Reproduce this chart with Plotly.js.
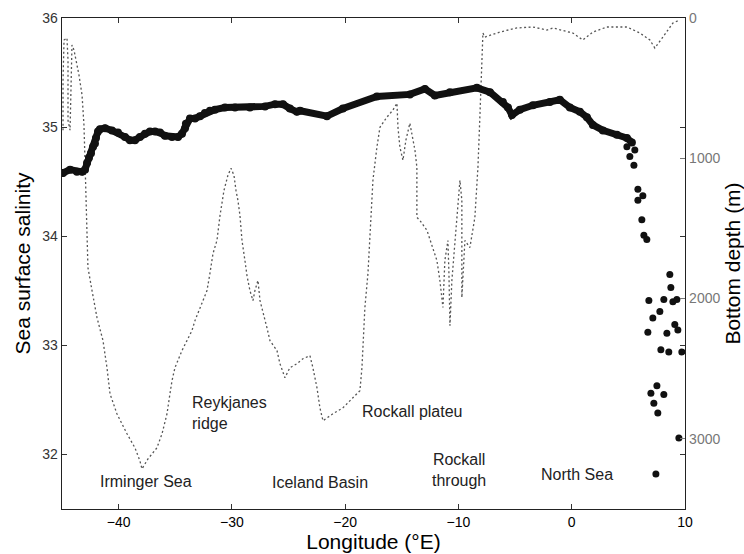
<!DOCTYPE html>
<html>
<head>
<meta charset="utf-8">
<script src="https://cdn.plot.ly/plotly-3.0.1.min.js"></script>
<style>html,body{margin:0;padding:0;background:#fff;}#chart{width:744px;height:554px;}</style>
</head>
<body>
<div id="chart"></div>
<script>
// Along-track sea surface salinity
const salLon = [-45.0,-44.91,-44.29,-43.68,-43.23,-42.97,-42.79,-42.62,-42.44,-42.26,-42.09,-42.0,-41.82,-41.65,-41.2,-40.59,-40.06,-39.44,-39.0,-38.56,-38.12,-37.67,-37.23,-36.79,-36.35,-35.91,-35.29,-34.76,-34.41,-34.14,-34.06,-33.7,-33.26,-32.82,-32.38,-31.94,-31.5,-30.61,-29.73,-28.41,-27.08,-26.2,-25.49,-24.88,-24.26,-23.99,-21.61,-20.2,-17.2,-14.29,-12.96,-12.08,-10.75,-8.37,-7.22,-6.08,-5.63,-5.28,-4.58,-3.43,-1.93,-1.05,-0.16,0.72,1.34,1.87,2.75,3.99,4.87,5.31];
const salVal = [34.58,34.58,34.61,34.59,34.59,34.61,34.67,34.72,34.76,34.82,34.85,34.90,34.96,34.98,34.99,34.97,34.95,34.91,34.88,34.88,34.91,34.94,34.96,34.96,34.95,34.92,34.91,34.91,34.94,34.99,35.03,35.08,35.08,35.10,35.13,35.15,35.16,35.18,35.18,35.18,35.19,35.21,35.21,35.17,35.14,35.15,35.10,35.17,35.28,35.30,35.35,35.29,35.32,35.36,35.32,35.23,35.18,35.11,35.16,35.20,35.23,35.25,35.18,35.14,35.09,35.02,34.97,34.93,34.90,34.86];
// Scattered North Sea salinity samples
const nsLon = [4.87,5.57,5.13,5.49,5.84,6.28,5.84,6.19,6.37,6.63,8.66,8.75,6.81,8.13,8.93,9.28,7.78,7.16,6.72,9.10,8.40,9.37,7.87,8.57,9.72,7.52,6.99,8.13,7.25,7.60,9.46,7.43];
const nsVal = [34.82,34.79,34.73,34.65,34.43,34.37,34.33,34.15,34.01,33.97,33.65,33.53,33.41,33.42,33.40,33.42,33.31,33.25,33.12,33.19,33.11,33.14,32.96,32.94,32.94,32.63,32.56,32.55,32.47,32.38,32.15,31.82];
// Bottom depth along the track (m)
const depLon = [-44.91,-44.91,-44.82,-44.56,-44.47,-44.47,-44.29,-44.21,-44.12,-43.94,-43.76,-43.5,-43.23,-43.06,-42.97,-42.88,-42.79,-42.71,-42.35,-41.91,-41.38,-41.03,-40.76,-40.15,-39.26,-38.56,-38.12,-37.94,-37.41,-36.62,-36.17,-35.73,-35.47,-35.29,-35.03,-34.41,-33.97,-33.53,-33.26,-33.0,-32.55,-32.2,-31.94,-31.67,-31.32,-31.05,-30.7,-30.35,-30.08,-29.82,-29.64,-29.47,-29.29,-29.11,-28.85,-28.67,-28.41,-28.14,-27.97,-27.7,-27.52,-27.35,-26.91,-26.64,-26.02,-25.76,-25.32,-24.88,-24.26,-23.73,-23.11,-22.85,-22.49,-22.23,-21.96,-21.08,-20.2,-19.32,-18.7,-18.52,-18.43,-18.26,-17.99,-17.82,-17.64,-17.55,-17.2,-16.93,-16.32,-15.79,-15.43,-15.34,-15.17,-14.9,-14.64,-14.29,-13.84,-13.67,-13.67,-13.4,-12.78,-12.26,-11.9,-11.64,-11.37,-11.2,-10.93,-10.84,-10.75,-10.58,-10.31,-10.05,-9.87,-9.7,-9.7,-9.43,-9.17,-8.99,-8.55,-8.28,-8.11,-7.93,-7.84,-7.67,-6.34,-4.84,-3.43,-2.19,-1.66,0.10,0.98,1.87,3.10,4.87,6.02,6.90,7.34,8.05,8.93,9.55];
const depVal = [800,443,157,143,300,729,800,443,193,229,300,407,550,764,1014,1300,1586,1779,1943,2136,2300,2493,2679,2821,2964,3064,3157,3214,3143,3064,2964,2821,2679,2586,2493,2371,2300,2229,2157,2107,2014,1943,1821,1679,1586,1407,1229,1121,1071,1121,1229,1300,1407,1586,1729,1836,1943,2014,1943,1871,2014,2064,2207,2300,2371,2464,2564,2493,2464,2429,2407,2493,2636,2779,2871,2821,2779,2707,2657,2493,2300,2064,1821,1586,1300,1157,921,779,707,657,607,779,921,1014,871,750,943,1064,1421,1443,1514,1636,1729,1871,2064,1729,1586,1821,2193,1871,1586,1300,1157,1300,1993,1586,1621,1636,1421,1064,707,350,107,136,100,71,64,86,71,107,157,100,64,64,107,157,214,136,36,14];
// Region labels
const labelText = ['Irminger Sea','Reykjanes<br>ridge','Iceland Basin','Rockall plateu','Rockall<br>through','North Sea'];
const labelLon = [-37.59,-33.70,-22.23,-18.70,-9.96,0.45];
const labelSal = [31.75,32.38,31.74,32.39,31.86,31.82];
const labelAnchor = ['center','left','center','left','center','center'];

const FONT = 'Liberation Sans, Arial, Helvetica, sans-serif';

const traces = [
  {x: depLon, y: depVal, yaxis: 'y', type: 'scatter', mode: 'lines',
   line: {color: '#555', width: 1.3, dash: '2px,2.5px'}, hoverinfo: 'skip'},
  {x: salLon, y: salVal, yaxis: 'y2', type: 'scatter', mode: 'lines+markers',
   line: {color: '#111', width: 7}, marker: {color: '#111', size: 8}},
  {x: nsLon, y: nsVal, yaxis: 'y2', type: 'scatter', mode: 'markers',
   marker: {color: '#111', size: 7}}
];

const annotations = labelText.map((t, i) => ({
  text: t, x: labelLon[i], y: labelSal[i], xref: 'x', yref: 'y2',
  xanchor: labelAnchor[i], yanchor: 'middle', align: labelAnchor[i] === 'left' ? 'left' : 'center',
  showarrow: false, font: {family: FONT, size: 16, color: '#222'}
}));

const layout = {
  width: 744, height: 554,
  margin: {l: 62, r: 59, t: 18, b: 45},
  paper_bgcolor: '#fff', plot_bgcolor: '#fff',
  showlegend: false,
  font: {family: FONT, color: '#000'},
  xaxis: {
    range: [-45, 10], tickvals: [-40, -30, -20, -10, 0, 10],
    ticks: 'inside', ticklen: 5, tickcolor: '#333', mirror: 'ticks',
    showline: true, linecolor: '#222', linewidth: 1.3, showgrid: false, zeroline: false,
    tickfont: {family: FONT, size: 14, color: '#000'},
    title: {text: 'Longitude (°E)', font: {family: FONT, size: 21, color: '#000'}, standoff: 4}
  },
  yaxis: {
    range: [3500, 0], side: 'right', tickvals: [0, 1000, 2000, 3000],
    ticks: 'inside', ticklen: 5, tickcolor: '#777',
    showline: true, linecolor: '#666', linewidth: 1.3, showgrid: false, zeroline: false,
    tickfont: {family: FONT, size: 14, color: '#777'},
    title: {text: 'Bottom depth (m)', font: {family: FONT, size: 21, color: '#000'}, standoff: 6}
  },
  yaxis2: {
    range: [31.5, 36], overlaying: 'y', side: 'left', tickvals: [32, 33, 34, 35, 36],
    ticks: 'inside', ticklen: 5, tickcolor: '#333', mirror: 'ticks',
    showline: true, linecolor: '#222', linewidth: 1.3, showgrid: false, zeroline: false,
    tickfont: {family: FONT, size: 14, color: '#333'},
    title: {text: 'Sea surface salinity', font: {family: FONT, size: 21, color: '#000'}, standoff: 6}
  },
  annotations: annotations
};

Plotly.newPlot('chart', traces, layout, {displayModeBar: false, staticPlot: true});
</script>
</body>
</html>
